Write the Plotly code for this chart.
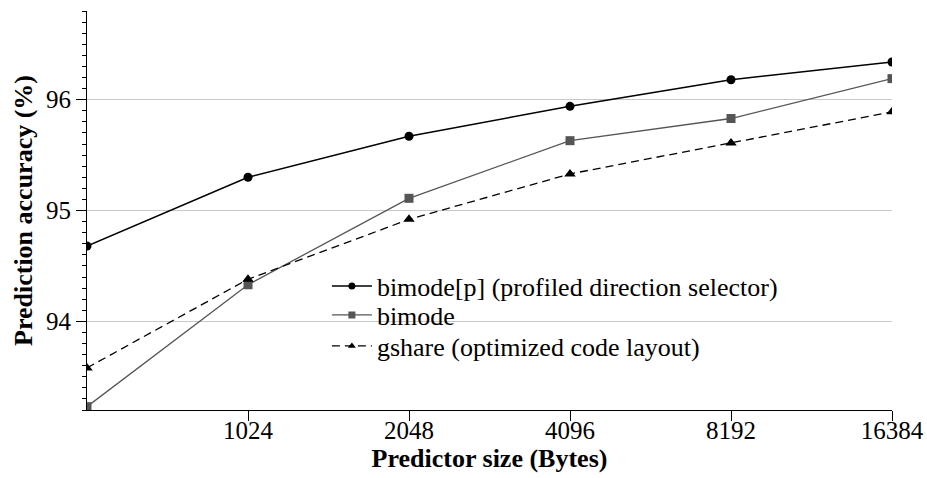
import math
import plotly.graph_objects as go

# Predictor sizes in bytes and prediction accuracy (%) per scheme
sizes = [512, 1024, 2048, 4096, 8192, 16384]
tick_sizes = [1024, 2048, 4096, 8192, 16384]
tick_labels = ["1024", "2048", "4096", "8192", "16384"]

bimode_p = [94.68, 95.30, 95.67, 95.94, 96.18, 96.34]
bimode = [93.23, 94.33, 95.11, 95.63, 95.83, 96.19]
gshare = [93.58, 94.38, 94.92, 95.33, 95.61, 95.89]

y_ticks = [94, 95, 96]

FONT = "Liberation Serif, Times New Roman, Times, serif"
GRAY = "#555555"

# name, values, colour, dash, marker symbol, line width, marker size, legend id
series = [
    ("bimode[p] (profiled direction selector)", bimode_p, "black", "solid", "circle", 1.5, 9, "legend"),
    ("bimode", bimode, GRAY, "solid", "square", 1.3, 9, "legend2"),
    ("gshare (optimized code layout)", gshare, "black", "8px,5px", "triangle-up", 1.3, 10, "legend3"),
]

fig = go.Figure()

# data traces
for name, vals, color, dash, symbol, lw, ms, lg in series:
    fig.add_trace(go.Scatter(
        x=sizes, y=vals, mode="lines+markers", name=name, showlegend=False,
        line=dict(color=color, width=lw, dash=dash),
        marker=dict(symbol=symbol, size=ms, color=color),
    ))

# legend entries with smaller marker glyphs, one row per legend box
for name, vals, color, dash, symbol, lw, ms, lg in series:
    fig.add_trace(go.Scatter(
        x=[None], y=[None], mode="lines+markers", name=name, legend=lg,
        line=dict(color=color, width=lw, dash=dash),
        marker=dict(symbol=symbol, size=7, color=color),
    ))

plot_top, plot_bottom = 11, 410


def legend_box(row_y):
    return dict(
        x=0.298, y=(plot_bottom - row_y) / (plot_bottom - plot_top),
        xanchor="left", yanchor="middle",
        bgcolor="rgba(0,0,0,0)", font=dict(family=FONT, size=26, color="black"),
        itemwidth=40,
    )


fig.update_layout(
    width=927, height=478,
    margin=dict(l=87, r=35, t=plot_top, b=478 - plot_bottom),
    paper_bgcolor="white", plot_bgcolor="white",
    font=dict(family=FONT, size=25, color="black"),
    legend=legend_box(286),
    legend2=legend_box(315),
    legend3=legend_box(346),
    xaxis=dict(
        type="log", range=[math.log10(sizes[0]), math.log10(sizes[-1])],
        tickvals=tick_sizes, ticktext=tick_labels, automargin=False,
        showgrid=False, zeroline=False,
        showline=True, linecolor="black", linewidth=1,
        ticks="outside", ticklen=10, tickcolor="black",
        ticklabelstandoff=-12,
        tickfont=dict(family=FONT, size=25, color="black"),
        title=dict(text="<b>Predictor size (Bytes)</b>",
                   font=dict(family=FONT, size=26, color="black"), standoff=4),
    ),
    yaxis=dict(
        range=[93.2, 96.8], tickvals=y_ticks, automargin=False,
        showgrid=True, gridcolor="#c8c8c8", gridwidth=1, zeroline=False,
        showline=True, linecolor="black", linewidth=1,
        ticks="outside", ticklen=10, tickcolor="black",
        tickfont=dict(family=FONT, size=25, color="black"),
        minor=dict(dtick=0.1, ticks="outside", ticklen=4,
                   tickcolor="black", showgrid=False),
        title=dict(text="<b>Prediction accuracy (%)</b>",
                   font=dict(family=FONT, size=26, color="black"), standoff=5),
    ),
)

fig.write_html("out.html")
